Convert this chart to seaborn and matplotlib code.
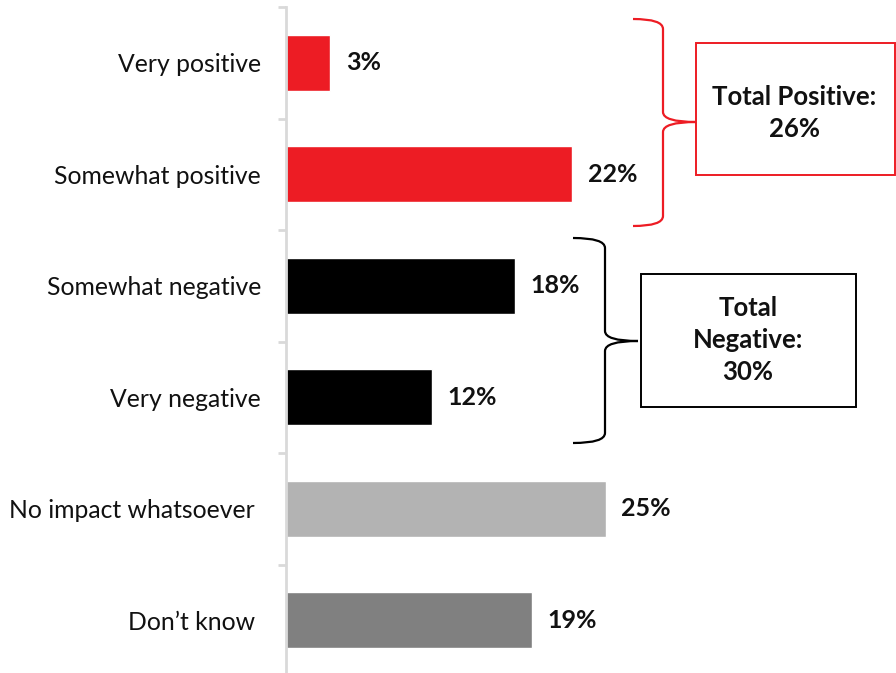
import matplotlib
matplotlib.use('Agg')
import matplotlib.pyplot as plt
import pandas as pd
import seaborn as sns
from matplotlib.path import Path
from matplotlib.patches import PathPatch, Rectangle

categories = ['Very positive', 'Somewhat positive', 'Somewhat negative',
              'Very negative', 'No impact whatsoever ', 'Don\u2019t know ']
values = [3.4, 22.0, 17.6, 11.2, 24.6, 18.9]
value_labels = ['3%', '22%', '18%', '12%', '25%', '19%']
colors = ['#ED1C24', '#ED1C24', '#000000', '#000000', '#B3B3B3', '#808080']
total_positive = '26%'
total_negative = '30%'

sns.set_theme(style='white')
plt.rcParams['font.family'] = ['Lato', 'DejaVu Sans']

W, H = 896, 673
fig = plt.figure(figsize=(W / 100, H / 100), dpi=100)
ax = fig.add_axes([286 / W, -3 / H, (W - 286) / W, 669 / H])

df = pd.DataFrame({'category': categories, 'value': values})
sns.barplot(data=df, y='category', x='value', hue='category', palette=colors,
            legend=False, width=0.5, saturation=1, ax=ax)

ax.set_xlim(0, (W - 286) / 13)
ax.set_ylim(len(categories) - 0.5, -0.5)
ax.set_xlabel('')
ax.set_ylabel('')
ax.set_xticks([])
for side in ['top', 'right', 'bottom']:
    ax.spines[side].set_visible(False)
ax.spines['left'].set_color('#d9d9d9')
ax.spines['left'].set_linewidth(2)

ax.set_yticks(range(len(categories)))
ax.set_yticklabels(categories, fontsize=17.8, color='#111111')
ax.tick_params(axis='y', which='major', left=False, length=0, pad=18)
ax.set_yticks([i - 0.5 for i in range(len(categories) + 1)], minor=True)
ax.tick_params(axis='y', which='minor', left=True, length=6, width=2,
               color='#d9d9d9')

for i, (v, lab) in enumerate(zip(values, value_labels)):
    ax.text(v + 1.2, i, lab, va='center', ha='left', fontsize=18,
            fontweight='bold', color='#111111')


def px(x, y):
    return (x / W, 1 - y / H)


def brace(x0, xv, xc, y0, ym, y1, color, r=10):
    pts = [(x0, y0), (xv, y0), (xv, y0 + r), (xv, ym - r), (xv, ym), (xc, ym),
           (xv, ym), (xv, ym + r), (xv, y1 - r), (xv, y1), (x0, y1)]
    codes = [Path.MOVETO, Path.CURVE3, Path.CURVE3, Path.LINETO,
             Path.CURVE3, Path.CURVE3, Path.CURVE3, Path.CURVE3,
             Path.LINETO, Path.CURVE3, Path.CURVE3]
    path = Path([px(*p) for p in pts], codes)
    fig.patches.append(PathPatch(path, fill=False, edgecolor=color, lw=1.6,
                                 transform=fig.transFigure))


def box(x0, y0, x1, y1, color):
    (fx0, fy1), (fx1, fy0) = px(x0, y0), px(x1, y1)
    fig.patches.append(Rectangle((fx0, fy0), fx1 - fx0, fy1 - fy0, fill=False,
                                 edgecolor=color, lw=1.4,
                                 transform=fig.transFigure))


brace(633, 663, 696, 19, 122, 226, '#ED1C24')
box(696, 43, 895, 175, '#ED1C24')
fig.text(*px(794, 113), 'Total Positive:\n' + total_positive, ha='center',
         va='center', fontsize=18.5, fontweight='bold', linespacing=1.42,
         color='#111111')

brace(573, 605, 638, 238, 341, 443, '#000000')
box(641, 274, 856, 407, '#000000')
fig.text(*px(748, 340), 'Total\nNegative:\n' + total_negative, ha='center',
         va='center', fontsize=18.5, fontweight='bold', linespacing=1.42,
         color='#111111')

fig.savefig('out.png', dpi=100)
